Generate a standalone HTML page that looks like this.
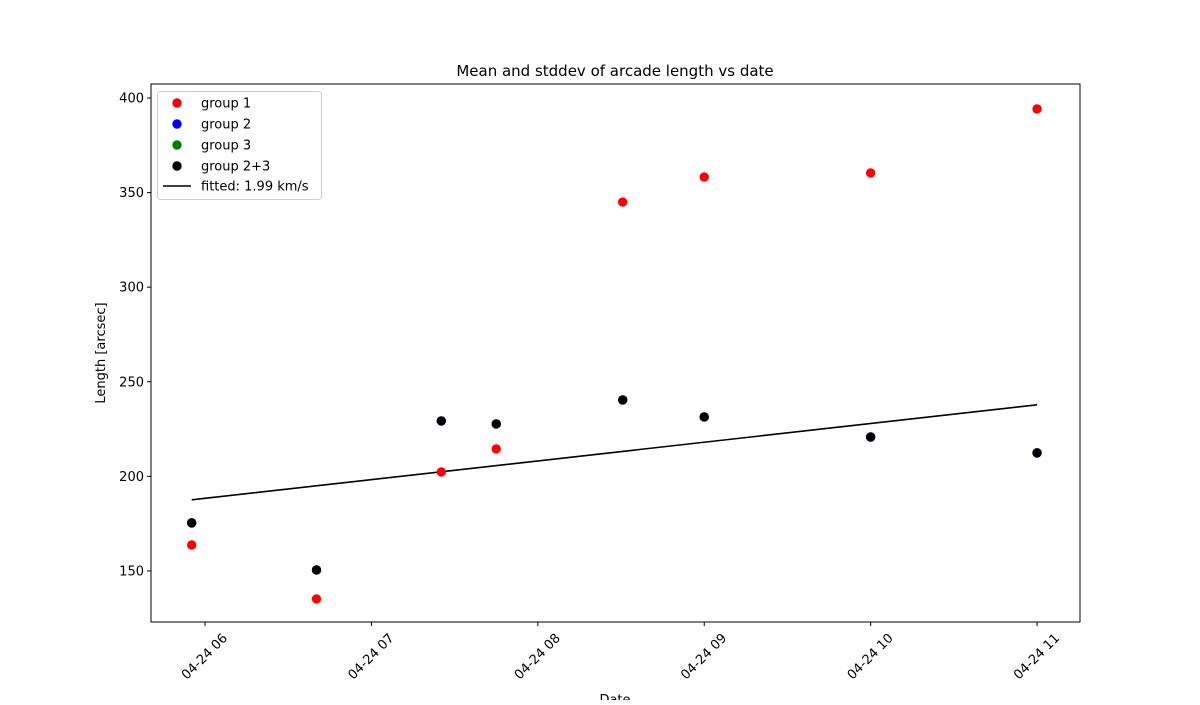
<!DOCTYPE html>
<html><head><meta charset="utf-8"><style>
body{margin:0;background:#fff;font-family:"Liberation Sans","DejaVu Sans",sans-serif;}
svg text{font-family:"DejaVu Sans","Liberation Sans",sans-serif;}
</style></head><body>
<svg id="chart" width="1200" height="700">
</svg>
<script>
const hoursX = [5.92, 6.67, 7.42, 7.75, 8.51, 9.0, 10.0, 11.0];
const group1 = [163.7, 135.2, 202.3, 214.5, 345.0, 358.2, 360.4, 394.2];
const group23 = [175.4, 150.5, 229.3, 227.7, 240.4, 231.4, 220.8, 212.4];
const fitHours = [5.92, 11.0];
const fitValues = [187.6, 237.8];
const yTicks = [150, 200, 250, 300, 350, 400];
const xTicks = [6, 7, 8, 9, 10, 11];
const xTickLabels = ["04-24 06","04-24 07","04-24 08","04-24 09","04-24 10","04-24 11"];

const L=151,R=1080,T=84,B=622;
const xMin=5.6755,xMax=11.258,yMin=123.0,yMax=407.4;
const sx=v=>L+(v-xMin)/(xMax-xMin)*(R-L);
const sy=v=>B-(v-yMin)/(yMax-yMin)*(B-T);
const svg=document.getElementById('chart');
const NS='http://www.w3.org/2000/svg';
function mk(tag,attrs,parent){const e=document.createElementNS(NS,tag);for(const k in attrs)e.setAttribute(k,attrs[k]);(parent||svg).appendChild(e);return e;}

let t=mk('text',{x:615,y:76,'text-anchor':'middle','font-size':15});t.textContent='Mean and stddev of arcade length vs date';



yTicks.forEach(v=>{
  const y=sy(v);
  const l=mk('line',{x1:L-4,x2:L,y1:y,y2:y,stroke:'#000'});
  
  
  const tx=mk('text',{x:L-7,y:y+4.5,'text-anchor':'end','font-size':13});tx.textContent=v;
  
  
});
xTicks.forEach((v,i)=>{
  const x=sx(v);
  const l=mk('line',{x1:x,x2:x,y1:B,y2:B+4,stroke:'#000'});
  
  
  const cy=B+35;
  const tx=mk('text',{x:x,y:cy,'text-anchor':'middle','dominant-baseline':'central','font-size':13,transform:`rotate(-45 ${x} ${cy})`});tx.textContent=xTickLabels[i];
  
  
});
t=mk('text',{x:615,y:704,'text-anchor':'middle','font-size':13});t.textContent='Date';


t=mk('text',{x:105,y:353,'text-anchor':'middle','font-size':13,transform:'rotate(-90 105 353)'});t.textContent='Length [arcsec]';



const fl=mk('polyline',{points:fitHours.map((h,i)=>sx(h)+','+sy(fitValues[i])).join(' '),fill:'none',stroke:'#000','stroke-width':1.6});



hoursX.forEach((h,i)=>{
  const c=mk('circle',{cx:sx(h),cy:sy(group1[i]),r:4.7,fill:'#ff0000'});
  
  
  const b=mk('circle',{cx:sx(h),cy:sy(group23[i]),r:4.7,fill:'#0000ff'});
  
  
  const k=mk('circle',{cx:sx(h),cy:sy(group23[i]),r:4.7,fill:'#000'});
  
  
});

const fr=mk('rect',{x:L,y:T,width:R-L,height:B-T,fill:'none',stroke:'#000','stroke-width':1});



const lg=mk('g',{});


mk('rect',{x:157.5,y:91.5,width:164,height:108,rx:3,fill:'#fff',stroke:'#ccc'},lg);
const items=[['group 1','#ff0000'],['group 2','#0000ff'],['group 3','#008000'],['group 2+3','#000']];
items.forEach((it,i)=>{
  const y=103+i*21;
  const c=mk('circle',{cx:177,cy:y,r:4.7,fill:it[1]},lg);
  
  
  const tx=mk('text',{x:201,y:y+4.5,'font-size':13},lg);tx.textContent=it[0];
  
  
});
const ll=mk('line',{x1:163,x2:191,y1:186,y2:186,stroke:'#000','stroke-width':1.6},lg);


const lt=mk('text',{x:201,y:190.5,'font-size':13},lg);lt.textContent='fitted: 1.99 km/s';


</script>
</body></html>
